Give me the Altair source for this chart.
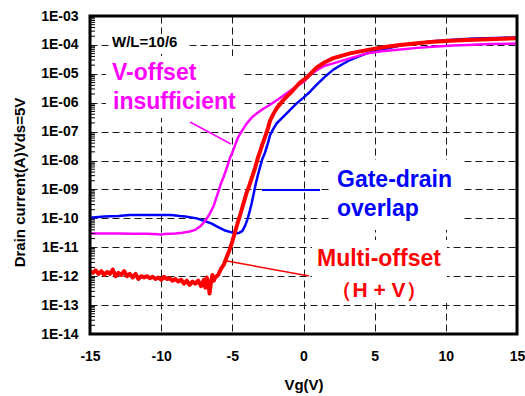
import altair as alt
import pandas as pd

# ---------------- data ----------------
x_ticks = [-15, -10, -5, 0, 5, 10, 15]
y_ticks = [1e-3, 1e-4, 1e-5, 1e-6, 1e-7, 1e-8, 1e-9, 1e-10, 1e-11, 1e-12, 1e-13, 1e-14]

# Multi-offset (H + V)  -- red
red_vg = [-15.0, -14.8, -14.6, -14.4, -14.2, -14.0, -13.8, -13.6, -13.4, -13.2, -13.0, -12.8,
          -12.6, -12.4, -12.2, -12.0, -11.8, -11.6, -11.4, -11.2, -11.0, -10.8, -10.6, -10.4,
          -10.2, -10.0, -9.8, -9.6, -9.4, -9.2, -9.0, -8.8, -8.6, -8.4, -8.2, -8.0, -7.8, -7.6,
          -7.4, -7.2, -7.0, -6.9, -6.8, -6.7, -6.6, -6.5, -6.4, -6.3, -6.2, -6.0, -5.8, -5.6,
          -5.4, -5.2, -5.0, -4.8, -4.6, -4.4, -4.2, -4.0, -3.8, -3.6, -3.41, -3.2, -3.06, -2.9,
          -2.7, -2.5, -2.35, -2.1, -1.88, -1.42, -0.72, -0.25, 0.22, 0.93, 1.5, 2.1, 3.27, 4.44,
          5.6, 6.78, 8.0, 9.12, 10.3, 11.46, 13.0, 15.0]
red_i = [1.5e-12, 1.3e-12, 1.6e-12, 1.2e-12, 1.5e-12, 1.1e-12, 1.4e-12, 1.2e-12, 1.7e-12, 1.0e-12,
         1.3e-12, 1.1e-12, 1.5e-12, 1.0e-12, 1.2e-12, 9.0e-13, 1.2e-12, 8.0e-13, 1.0e-12, 9.0e-13,
         1.0e-12, 8.5e-13, 9.5e-13, 8.0e-13, 9.0e-13, 7.5e-13, 9.5e-13, 8.0e-13, 8.5e-13, 7.0e-13,
         8.0e-13, 6.5e-13, 7.5e-13, 5.5e-13, 7.0e-13, 5.0e-13, 6.5e-13, 5.5e-13, 7.0e-13, 4.5e-13,
         7.5e-13, 4.0e-13, 9.0e-13, 6.0e-13, 2.5e-13, 6.0e-13, 1.1e-12, 7.0e-13, 9.0e-13, 1.1e-12,
         1.8e-12, 2.5e-12, 4.5e-12, 7.9e-12, 1.6e-11, 3.5e-11, 7.6e-11, 1.6e-10, 3.5e-10, 7.6e-10,
         1.4e-9, 2.8e-9, 5.4e-9, 1.26e-8, 2.0e-8, 3.5e-8, 6.6e-8, 1.3e-7, 2.4e-7, 4.2e-7, 6.5e-7,
         1.23e-6, 2.75e-6, 5.0e-6, 7.4e-6, 1.66e-5, 2.5e-5, 3.5e-5, 5.1e-5, 6.6e-5, 8.3e-5, 1.0e-4,
         1.15e-4, 1.29e-4, 1.38e-4, 1.48e-4, 1.58e-4, 1.7e-4]

# Gate-drain overlap -- blue
blue_vg = [-15.0, -14.0, -13.0, -12.2, -11.0, -10.0, -9.3, -8.7, -8.3, -7.5, -7.0, -6.45, -6.0,
           -5.5, -5.0, -4.8, -4.5, -4.3, -4.1, -3.95, -3.8, -3.65, -3.5, -3.35, -3.2, -3.06, -2.9,
           -2.7, -2.5, -2.35, -2.1, -1.88, -1.5, -1.18, -0.8, -0.48, 0.0, 0.46, 0.93, 1.5, 2.1,
           2.7, 3.27, 3.9, 4.44, 5.0, 5.6, 6.8, 8.0, 9.1, 10.5, 12.0, 13.5, 15.0]
blue_i = [1.05e-10, 1.15e-10, 1.2e-10, 1.3e-10, 1.3e-10, 1.3e-10, 1.3e-10, 1.2e-10, 1.15e-10,
          1.0e-10, 8.3e-11, 6.6e-11, 5.0e-11, 3.8e-11, 3.2e-11, 3.0e-11, 3.2e-11, 3.6e-11, 5.6e-11,
          8.9e-11, 1.6e-10, 3.2e-10, 7.1e-10, 1.6e-9, 3.2e-9, 5.8e-9, 1.1e-8, 1.9e-8, 4.0e-8,
          7.6e-8, 1.3e-7, 1.95e-7, 3.0e-7, 4.3e-7, 6.6e-7, 9.5e-7, 1.5e-6, 2.4e-6, 4.2e-6, 7.9e-6,
          1.4e-5, 2.1e-5, 3.0e-5, 4.0e-5, 5.1e-5, 6.0e-5, 7.1e-5, 9.5e-5, 1.17e-4, 1.35e-4,
          1.51e-4, 1.66e-4, 1.74e-4, 1.82e-4]

# V-offset insufficient -- magenta
mag_vg = [-15.0, -14.0, -13.0, -12.0, -11.0, -10.2, -10.0, -9.8, -9.0, -8.5, -8.0, -7.6, -7.2,
          -6.9, -6.6, -6.3, -6.0, -5.8, -5.6, -5.4, -5.2, -5.0, -4.8, -4.6, -4.3, -4.0, -3.6,
          -3.2, -2.8, -2.35, -1.8, -1.2, -0.6, 0.0, 0.5, 1.0, 1.5, 2.1, 3.3, 4.4, 5.5, 6.8, 8.0,
          9.1, 10.5, 11.5, 13.0, 15.0]
mag_i = [3.0e-11, 3.0e-11, 3.0e-11, 2.95e-11, 2.95e-11, 2.8e-11, 2.7e-11, 2.9e-11, 3.0e-11,
         3.2e-11, 3.5e-11, 4.0e-11, 5.6e-11, 8.3e-11, 1.4e-10, 2.8e-10, 7.9e-10, 1.6e-9, 2.8e-9,
         5.4e-9, 1.1e-8, 1.9e-8, 3.5e-8, 6.3e-8, 1.1e-7, 1.9e-7, 3.2e-7, 4.6e-7, 6.3e-7, 8.5e-7,
         1.3e-6, 2.1e-6, 3.4e-6, 5.2e-6, 9.3e-6, 1.4e-5, 1.9e-5, 2.3e-5, 3.5e-5, 5.0e-5, 6.0e-5,
         6.9e-5, 7.9e-5, 8.7e-5, 9.5e-5, 1.0e-4, 1.07e-4, 1.12e-4]

minor_ticks = [m * d for d in [1e-14, 1e-13, 1e-12, 1e-11, 1e-10, 1e-9, 1e-8, 1e-7, 1e-6, 1e-5, 1e-4]
               for m in range(2, 10)]

# ---------------- chart ----------------
FONT = "Liberation Sans"
W, H = 427, 318
RED, BLUE, MAG = "#FF0000", "#0000FF", "#FF00FF"
GRID = "#1a1a1a"

df_red = pd.DataFrame({"vg": red_vg, "cur": red_i})
df_blue = pd.DataFrame({"vg": blue_vg, "cur": blue_i})
df_mag = pd.DataFrame({"vg": mag_vg, "cur": mag_i})
df_minor = pd.DataFrame({"cur": minor_ticks})
one = pd.DataFrame({"k": [0]})

x_scale = alt.Scale(domain=[-15, 15], nice=False, zero=False)
y_scale = alt.Scale(type="log", domain=[1e-14, 1e-3], nice=False)

x_axis = alt.Axis(values=x_ticks, title="Vg(V)", grid=True, gridDash=[7, 4], gridColor=GRID,
                  gridWidth=1, domain=False, ticks=False, tickSize=0, labelPadding=15,
                  labelExpr="datum.value + ''", labelFont=FONT, labelFontSize=14,
                  labelFontWeight="bold", labelColor="black", labelFlush=False,
                  titleFont=FONT, titleFontSize=15, titleFontWeight="bold", titleColor="black",
                  titleY=55, titleBaseline="alphabetic")
y_axis = alt.Axis(values=y_ticks, title="Drain current(A)Vds=5V", grid=True, gridDash=[7, 4],
                  gridColor=GRID, gridWidth=1, domain=False, ticks=False, tickSize=0,
                  labelPadding=12,
                  labelExpr="'1E-' + (-round(log(datum.value)/LN10) < 10 ? '0' : '') + (-round(log(datum.value)/LN10))",
                  labelFont=FONT, labelFontSize=14, labelFontWeight="bold", labelColor="black",
                  labelFlush=False, titleFont=FONT, titleFontSize=15, titleFontWeight="bold",
                  titleColor="black", titleX=-66, titleY=166, titleBaseline="alphabetic")


def curve(df, color, width):
    return alt.Chart(df).mark_line(color=color, strokeWidth=width, strokeJoin="round").encode(
        x=alt.X("vg:Q", scale=x_scale, axis=x_axis),
        y=alt.Y("cur:Q", scale=y_scale, axis=y_axis),
    )


def box(x1, x2, y1, y2):
    return alt.Chart(one).mark_rect(fill="white").encode(
        x=alt.value(x1), x2=alt.value(x2), y=alt.value(y1), y2=alt.value(y2))


def leader(x1, y1, x2, y2, color, width):
    return alt.Chart(one).mark_rule(color=color, strokeWidth=width).encode(
        x=alt.value(x1), x2=alt.value(x2), y=alt.value(y1), y2=alt.value(y2))


def label(txt, x, y, color, size, align="left"):
    return alt.Chart(one).mark_text(
        text=txt, align=align, baseline="alphabetic", font=FONT, fontSize=size,
        fontWeight="bold", color=color).encode(x=alt.value(x), y=alt.value(y))


backs = [box(21, 98, 18, 38), box(16, 153, 40, 102), box(242, 372, 144, 214), box(222, 357, 224, 287)]

minor = alt.Chart(df_minor).mark_rule(color="black", strokeWidth=1).encode(
    x=alt.value(0), x2=alt.value(5), y=alt.Y("cur:Q", scale=y_scale, axis=y_axis))

frame = alt.Chart(one).mark_rect(filled=False, stroke="black", strokeWidth=3).encode(
    x=alt.value(0), x2=alt.value(W), y=alt.value(0), y2=alt.value(H))

texts = [
    label("W/L=10/6", 22, 31, "black", 15),
    label("V-offset", 22, 64, MAG, 23),
    label("insufficient", 23, 93, MAG, 23),
    label("Gate-drain", 247, 171, BLUE, 23),
    label("overlap", 247, 200, BLUE, 23),
    label("Multi-offset", 227, 250, RED, 23),
    label("（H + V）", 289, 281, RED, 21, align="center"),
]

leaders = [
    leader(100, 106, 141, 128, MAG, 1.5),
    leader(172, 174, 230, 174, BLUE, 2),
    leader(137, 245, 219, 260, RED, 1.5),
]

chart = alt.layer(
    *backs,
    curve(df_blue, BLUE, 2.5),
    curve(df_mag, MAG, 2.5),
    curve(df_red, RED, 4),
    minor,
    *leaders,
    *texts,
    frame,
).properties(
    width=W, height=H,
    autosize=alt.AutoSizeParams(type="none"),
    padding={"left": 90, "top": 16, "right": 8, "bottom": 62},
    background="white",
).configure_view(strokeWidth=0)

chart.save("out.html", embed_options={"renderer": "svg", "actions": False})
